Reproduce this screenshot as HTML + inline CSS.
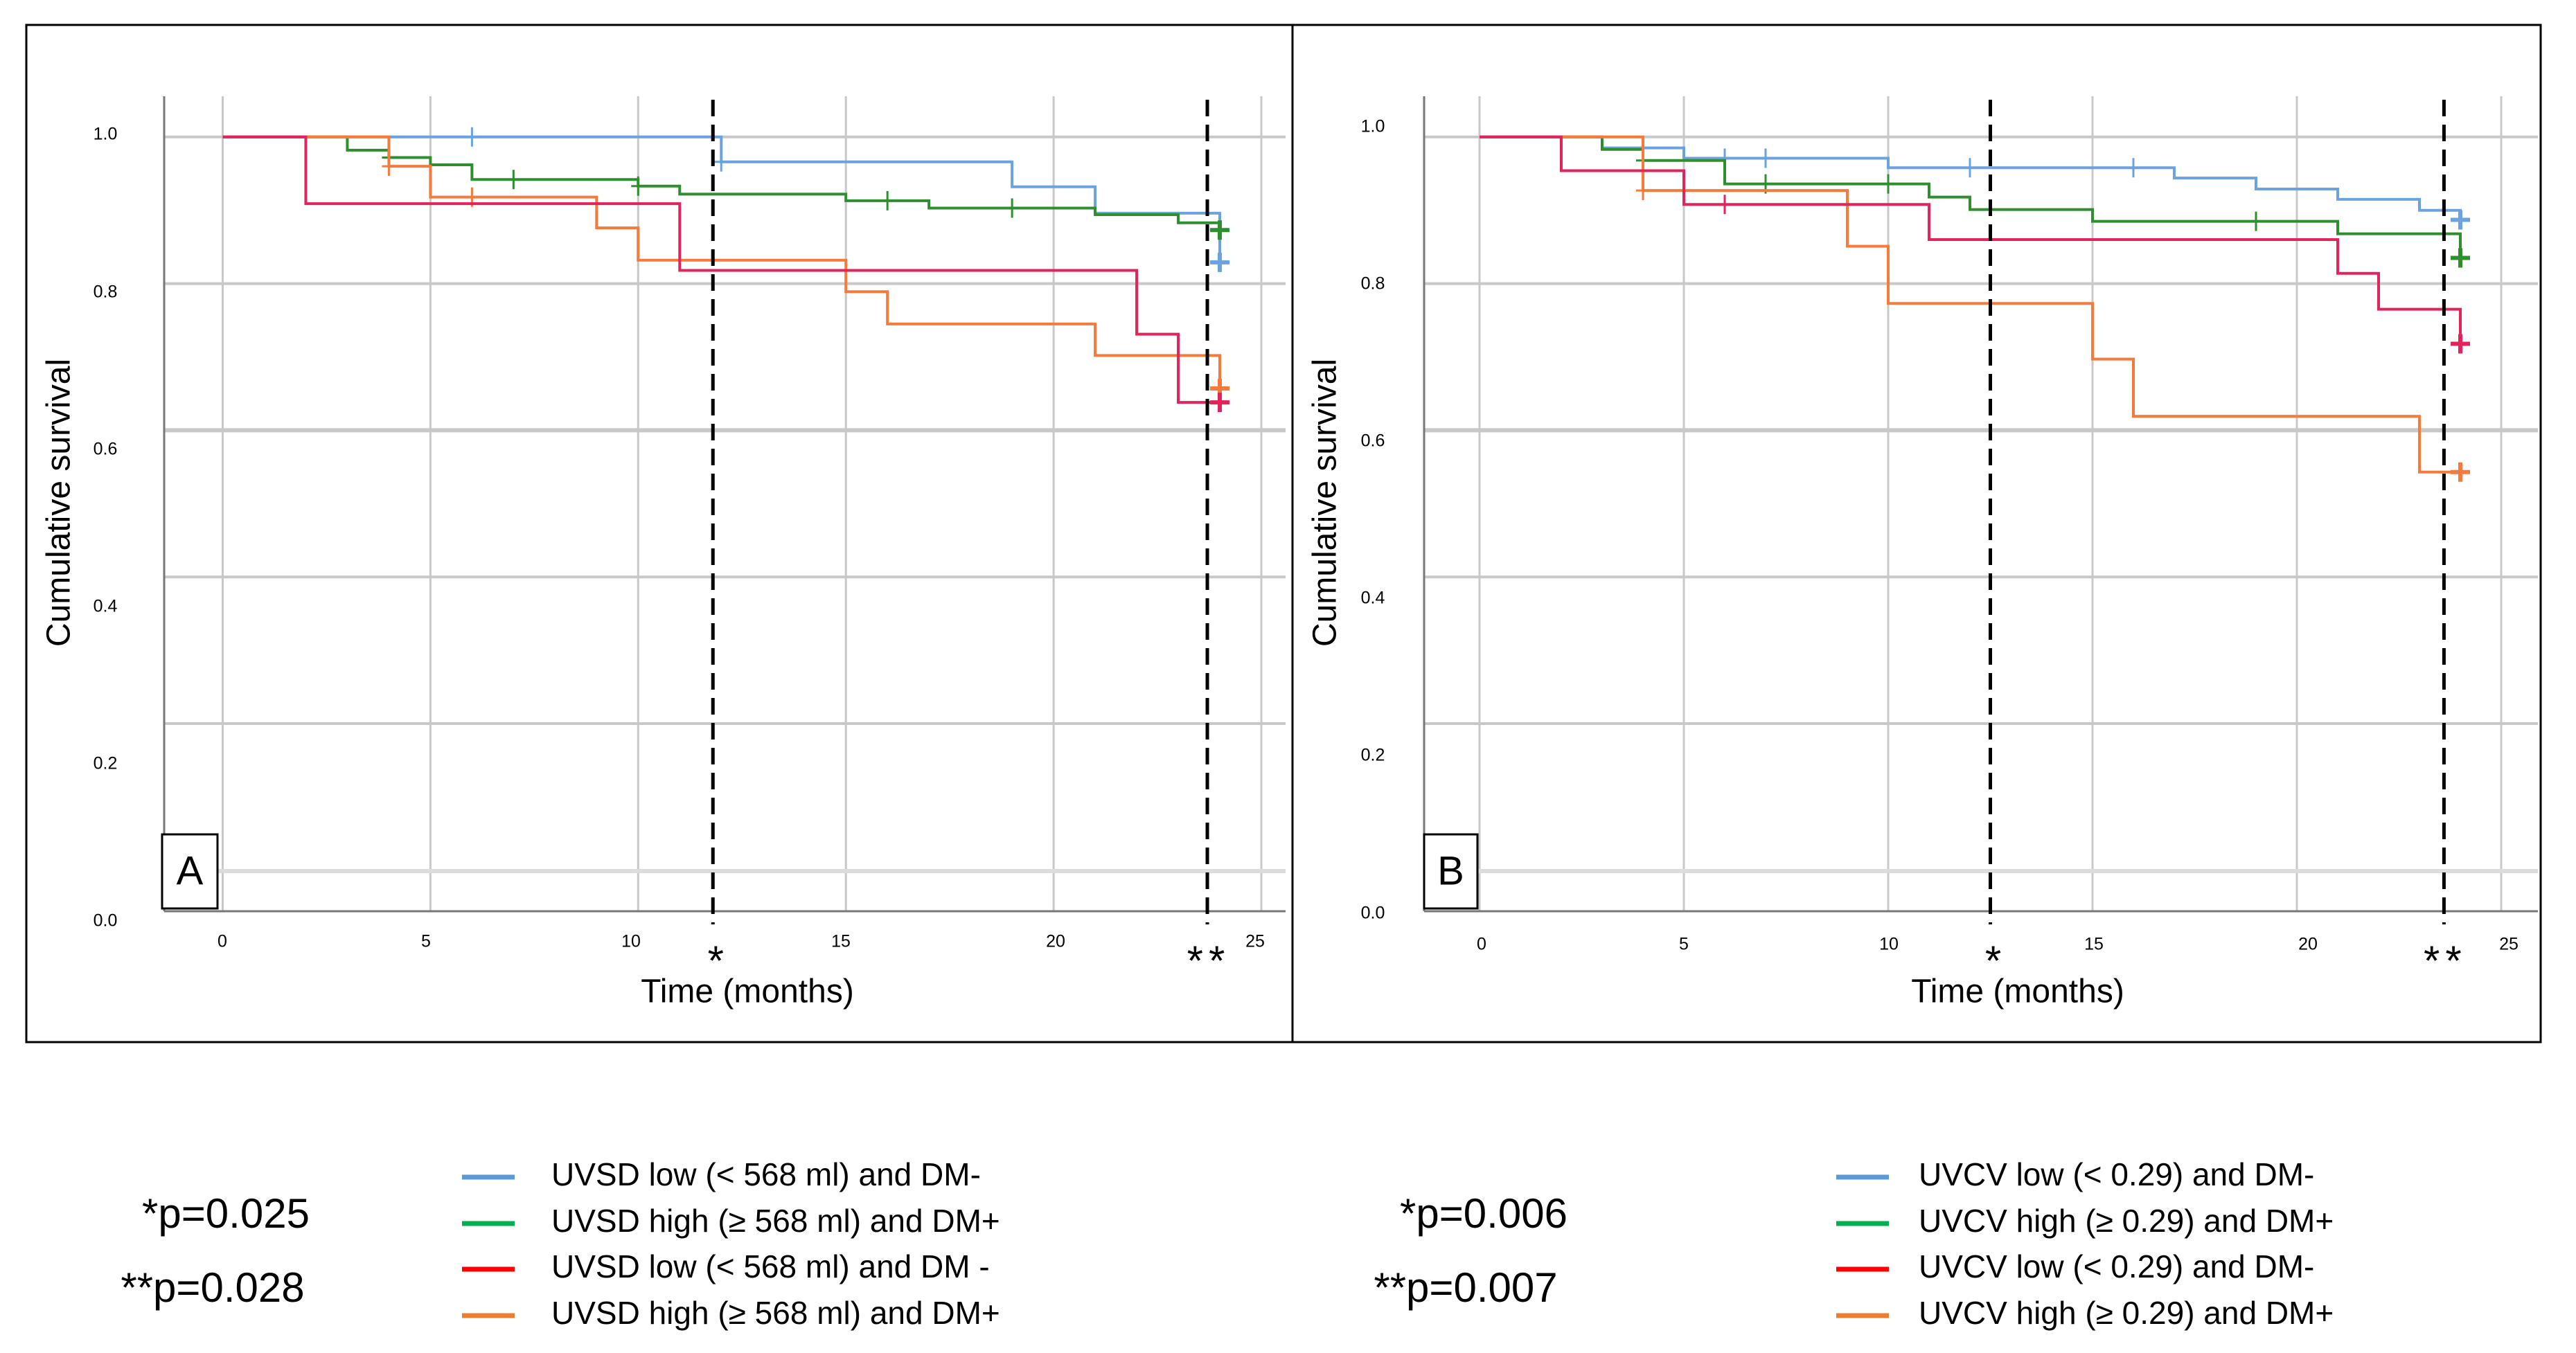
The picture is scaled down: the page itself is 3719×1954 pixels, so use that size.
<!DOCTYPE html>
<html><head><meta charset="utf-8"><style>
html,body{margin:0;padding:0;background:#fff;}
svg{display:block;}
text{font-family:"Liberation Sans",sans-serif;}
</style></head><body>
<svg id="fig" width="3719" height="1954" viewBox="0 0 3719 1954" xmlns="http://www.w3.org/2000/svg">
<rect x="38" y="36" width="3630" height="1469" fill="none" stroke="#000" stroke-width="3"/>
<line x1="1866" y1="36" x2="1866" y2="1505" stroke="#000" stroke-width="3"/>
<g id="panelA"></g>
<g id="panelB"></g>
<g id="legend"></g>
</svg>
<script>
const NS='http://www.w3.org/2000/svg';
const xTicks=[0,5,10,15,20,25];
const yTicks=[0.0,0.2,0.4,0.6,0.8,1.0];
const yTickLabels=['0.0','0.2','0.4','0.6','0.8','1.0'];
// Panel A step data: [time, survival after step]
const aBlueT=[0,12,19,21,24], aBlueS=[1,0.966,0.932,0.896,0.829];
const aGreenT=[0,3,4,5,6,10,11,15,17,21,23,24], aGreenS=[1,0.982,0.972,0.962,0.942,0.933,0.922,0.913,0.903,0.894,0.883,0.873];
const aRedT=[0,2,11,22,23,24], aRedS=[1,0.909,0.818,0.731,0.638,0.638];
const aOrangeT=[0,4,5,9,10,15,16,21,24], aOrangeS=[1,0.96,0.918,0.876,0.832,0.789,0.745,0.702,0.657];
const aBlueC=[[6,1],[12,0.966],[24,0.829]];
const aGreenC=[[4,0.972],[7,0.942],[10,0.933],[16,0.913],[19,0.903],[24,0.873]];
const aRedC=[[24,0.638]];
const aOrangeC=[[4,0.96],[6,0.918],[24,0.657]];
// Panel B
const bBlueT=[0,3,5,10,17,19,21,23,24], bBlueS=[1,0.985,0.971,0.958,0.944,0.929,0.915,0.9,0.887];
const bGreenT=[0,3,4,6,11,12,15,21,24], bGreenS=[1,0.983,0.968,0.936,0.918,0.901,0.885,0.868,0.835];
const bRedT=[0,2,5,11,21,22,24], bRedS=[1,0.954,0.908,0.86,0.814,0.765,0.718];
const bOrangeT=[0,4,9,10,15,16,23,24], bOrangeS=[1,0.927,0.851,0.773,0.697,0.619,0.543,0.543];
const bBlueC=[[6,0.971],[7,0.971],[12,0.958],[16,0.958],[24,0.887]];
const bGreenC=[[4,0.968],[7,0.936],[10,0.936],[19,0.885],[24,0.835]];
const bRedC=[[6,0.908],[24,0.718]];
const bOrangeC=[[4,0.927],[24,0.543]];
const dashA=[11.8,23.7], dashB=[12.5,23.6];
const COLORS={blue:'#6aa3e0',green:'#2f8f2f',red:'#e2245a',orange:'#f57a3c'};

function el(tag,attrs,parent,txt){const e=document.createElementNS(NS,tag);for(const k in attrs)e.setAttribute(k,attrs[k]);if(txt!==undefined)e.textContent=txt;parent.appendChild(e);return e;}

function drawPanel(g,cfg,series,dashes,letter,pre){
  const X=t=>cfg.x0+t*cfg.dx;
  const Y=v=>cfg.y1+(1-v)*cfg.dy;
  xTicks.forEach(t=>{const l=el('line',{x1:X(t),x2:X(t),y1:cfg.top,y2:cfg.axisY,stroke:'#c8c8c8','stroke-width':3},g);
    
    });
  yTicks.forEach(v=>{if(v===0)return;const l=el('line',{x1:cfg.left,x2:cfg.right,y1:Y(v),y2:Y(v),stroke:'#c8c8c8','stroke-width':v===0.6?6:4},g);
    
    });
  const gl=el('line',{x1:cfg.left,x2:cfg.right,y1:1258,y2:1258,stroke:'#dcdcdc','stroke-width':6},g);
  
  
  const ax=el('line',{x1:cfg.left,x2:cfg.right,y1:cfg.axisY,y2:cfg.axisY,stroke:'#777','stroke-width':3},g);
  
  
  const ay=el('line',{x1:cfg.left,x2:cfg.left,y1:cfg.top,y2:cfg.axisY,stroke:'#777','stroke-width':3},g);
  
  
  xTicks.forEach((t,i)=>{const tx=el('text',{x:cfg.xlx[i],y:cfg.xly,'font-size':25,'text-anchor':'middle','dominant-baseline':'middle'},g,String(t));
    
    });
  yTicks.forEach((v,i)=>{const tx=el('text',{x:cfg.ylx,y:cfg.yly[i],'font-size':25,'text-anchor':'middle','dominant-baseline':'middle'},g,yTickLabels[i]);
    
    });
  series.forEach(s=>{
    let d='M'+X(s.t[0])+','+Y(s.s[0]);
    for(let i=1;i<s.t.length;i++){d+=' H'+X(s.t[i])+' V'+Y(s.s[i]);}
    const p=el('path',{d:d,fill:'none',stroke:COLORS[s.c],'stroke-width':4},g);
    
    
    s.cens.forEach(c=>{const last=c[0]===24;const w=last?14:10;
      const m=el('path',{d:'M'+(X(c[0])-w)+','+Y(c[1])+' h'+(2*w)+' M'+X(c[0])+','+(Y(c[1])-14)+' v28',stroke:COLORS[s.c],'stroke-width':last?6:3,fill:'none'},g);
      
      });
  });
  dashes.forEach((t,i)=>{const l=el('line',{x1:X(t),x2:X(t),y1:144,y2:1335,stroke:'#000','stroke-width':5,'stroke-dasharray':'24,12'},g);
    
    
    const s=el('text',{x:X(t)+(i?2:4),y:1392,'font-size':60,'text-anchor':'middle','dominant-baseline':'middle','letter-spacing':i?8:0},g,i?'**':'*');
    
    });
  const r=el('rect',{x:cfg.lbx,y:1205,width:cfg.lbw,height:107,fill:'#fff',stroke:'#000','stroke-width':3},g);
  
  
  const lt=el('text',{x:cfg.lbx+cfg.lbw/2,y:1262,'font-size':58,'text-anchor':'middle','dominant-baseline':'middle'},g,letter);
  
  
  const yt=el('text',{x:cfg.ytx,y:726,'font-size':48,'text-anchor':'middle','dominant-baseline':'middle',transform:'rotate(-90 '+cfg.ytx+' 726)'},g,'Cumulative survival');
  
  
  const xt=el('text',{x:cfg.xtx,y:1435,'font-size':48,'text-anchor':'middle','dominant-baseline':'middle'},g,'Time (months)');
  
  
}
const cfgA={x0:321.5,dx:59.98,y1:197.8,dy:1059,top:139,axisY:1316,left:237,right:1856,
  xlx:[321,615,911,1214,1524,1812],xly:1361,ylx:152,yly:[1331,1104,877,650,423,195],lbx:234,lbw:80,ytx:88,xtx:1079};
const cfgB={x0:2136,dx:59.0,y1:197.8,dy:1059,top:139,axisY:1316,left:2056,right:3664,
  xlx:[2139,2431,2727,3023,3332,3622],xly:1365,ylx:1982,yly:[1320,1092,865,638,411,184],lbx:2056,lbw:77,ytx:1916,xtx:2913};
drawPanel(document.getElementById('panelA'),cfgA,[
  {c:'blue',t:aBlueT,s:aBlueS,cens:aBlueC},{c:'green',t:aGreenT,s:aGreenS,cens:aGreenC},
  {c:'orange',t:aOrangeT,s:aOrangeS,cens:aOrangeC},{c:'red',t:aRedT,s:aRedS,cens:aRedC}],dashA,'A','a-');
drawPanel(document.getElementById('panelB'),cfgB,[
  {c:'blue',t:bBlueT,s:bBlueS,cens:bBlueC},{c:'green',t:bGreenT,s:bGreenS,cens:bGreenC},
  {c:'orange',t:bOrangeT,s:bOrangeS,cens:bOrangeC},{c:'red',t:bRedT,s:bRedS,cens:bRedC}],dashB,'B','b-');

const legA=['UVSD low (< 568 ml) and DM-','UVSD high (\u2265 568 ml) and DM+','UVSD low (< 568 ml) and DM -','UVSD high (\u2265 568 ml) and DM+'];
const legB=['UVCV low (< 0.29) and DM-','UVCV high (\u2265 0.29) and DM+','UVCV low (< 0.29) and DM-','UVCV high (\u2265 0.29) and DM+'];
const legColors=['#5b9bd5','#00b050','#ff0000','#ed7d31'];
const legY=[1700,1767,1833,1900];
const lg=document.getElementById('legend');
[[legA,667,796],[legB,2651,2770]].forEach(([labels,sx,tx])=>{
  labels.forEach((lab,i)=>{
    const sw=el('line',{x1:sx,x2:sx+76,y1:legY[i],y2:legY[i],stroke:legColors[i],'stroke-width':7},lg);
    
    
    const t=el('text',{x:tx,y:legY[i],'font-size':46,'dominant-baseline':'middle'},lg,lab);
    
    
  });
});
[['*p=0.025',326,1757],['**p=0.028',307,1864],['*p=0.006',2142,1757],['**p=0.007',2116,1864]].forEach(([s,x,y])=>{
  const t=el('text',{x:x,y:y,'font-size':60,'text-anchor':'middle','dominant-baseline':'middle'},lg,s);
  
  
});
</script>
</body></html>
